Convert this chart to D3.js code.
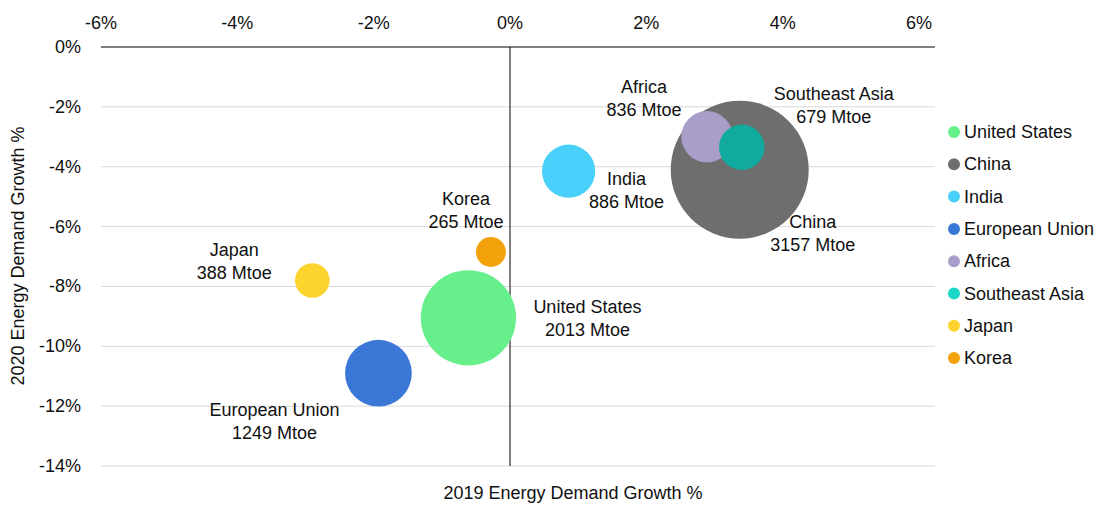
<!DOCTYPE html>
<html><head><meta charset="utf-8">
<script src="https://cdn.jsdelivr.net/npm/d3@7"></script>
<style>body{margin:0;background:#fff}text{font-family:"Liberation Sans",Arial,sans-serif;fill:#111}</style>
</head><body><svg id="c" width="1116" height="505"></svg>
<script>
var regions = ["United States","China","India","European Union","Africa","Southeast Asia","Japan","Korea"];
var growth2019 = [-0.61, 3.37, 0.86, -1.93, 2.89, 3.40, -2.90, -0.28];
var growth2020 = [-9.05, -4.1, -4.15, -10.9, -3.0, -3.35, -7.8, -6.85];
var demand = [2013, 3157, 886, 1249, 836, 679, 388, 265];
var colors = ["#66ef8a","#6e6e6e","#48cffa","#3b77d6","#a99dc9","#12aa9e","#fdd42d","#f4a20b"];
var legendColors = ["#66ef8a","#6e6e6e","#48cffa","#3b77d6","#a99dc9","#1bd6c9","#fdd42d","#f4a20b"];
var xTicks = [-6,-4,-2,0,2,4,6];
var yTicks = [0,-2,-4,-6,-8,-10,-12,-14];
// label offsets (dx, dy of first line)
var labelPos = [[119,-5],[73,58],[58,14],[-104,43],[-63,-44],[92,-47],[-78,-24],[-25,-47]];

var svg = d3.select("#c");
var x = d3.scaleLinear().domain([-6,6]).range([101,919]);
var y = d3.scaleLinear().domain([0,-14]).range([47,466]);
var r = d3.scaleLinear().domain([265,3157]).range([15,69]);
var fs = 18;

svg.selectAll(".grid").data(yTicks.slice(1)).enter().append("line")
  .attr("x1",101).attr("x2",935).attr("y1",d=>y(d)).attr("y2",d=>y(d))
  .attr("stroke","#d9d9d9").attr("stroke-width",1);
svg.append("line").attr("x1",101).attr("x2",935).attr("y1",y(0)).attr("y2",y(0)).attr("stroke","#000");
svg.append("line").attr("x1",x(0)).attr("x2",x(0)).attr("y1",y(0)).attr("y2",y(-14)).attr("stroke","#000");

svg.selectAll(".xt").data(xTicks).enter().append("text")
  .attr("x",d=>x(d)).attr("y",29).attr("text-anchor","middle").attr("font-size",fs)
  .text(d=>d+"%");
svg.selectAll(".yt").data(yTicks).enter().append("text")
  .attr("x",81).attr("y",d=>y(d)+6).attr("text-anchor","end").attr("font-size",fs)
  .text(d=>d+"%");

var idx = d3.range(regions.length);
svg.selectAll(".b").data(idx).enter().append("circle")
  .attr("cx",i=>x(growth2019[i])).attr("cy",i=>y(growth2020[i])).attr("r",i=>r(demand[i]))
  .attr("fill",i=>colors[i]);

idx.forEach(function(i){
  var p = labelPos[i];
  var t = svg.append("text").attr("text-anchor","middle").attr("font-size",fs)
    .attr("x",x(growth2019[i])+p[0]).attr("y",y(growth2020[i])+p[1]);
  t.append("tspan").text(regions[i]);
  t.append("tspan").attr("x",x(growth2019[i])+p[0]).attr("dy",23).text(demand[i]+" Mtoe");
});

var lg = svg.selectAll(".lg").data(idx).enter().append("g")
  .attr("transform",i=>"translate(954,"+(132+i*32.3)+")");
lg.append("circle").attr("r",6).attr("fill",i=>legendColors[i]);
lg.append("text").attr("x",10).attr("y",6).attr("font-size",fs).text(i=>regions[i]);

svg.append("text").attr("x",573).attr("y",499).attr("text-anchor","middle").attr("font-size",fs)
  .text("2019 Energy Demand Growth %");
svg.append("text").attr("transform","translate(24,256) rotate(-90)").attr("text-anchor","middle").attr("font-size",fs)
  .text("2020 Energy Demand Growth %");
</script></body></html>
